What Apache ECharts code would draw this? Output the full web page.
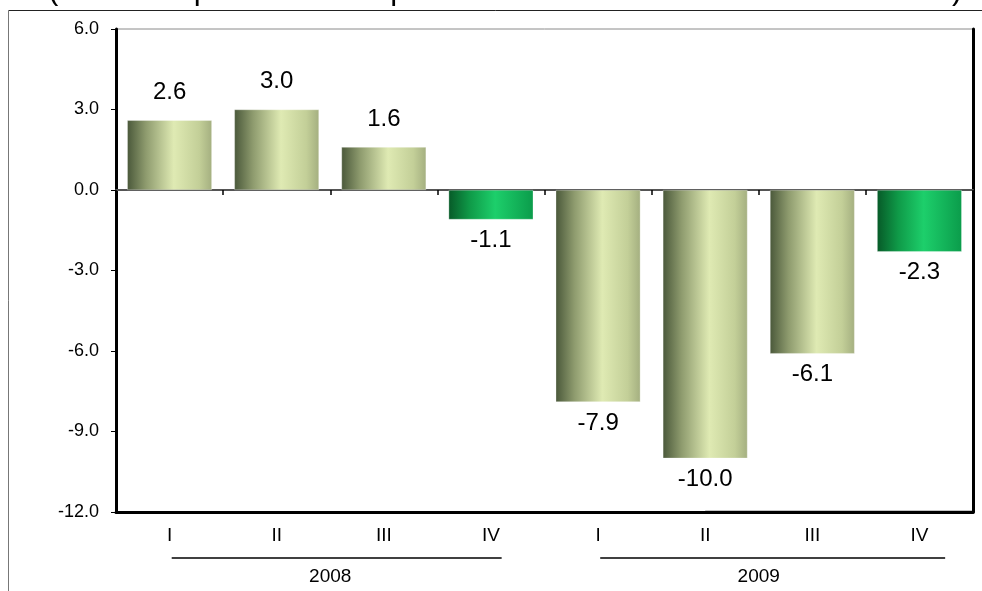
<!DOCTYPE html>
<html>
<head>
<meta charset="utf-8">
<script src="https://cdn.jsdelivr.net/npm/echarts@6/dist/echarts.min.js"></script>
<style>
  html, body { margin: 0; padding: 0; background: #fff; }
  #chart { width: 982px; height: 591px; }
</style>
</head>
<body>
<div id="chart"></div>
<script>
// Quarterly values, grouped by year
const quarters = ['I', 'II', 'III', 'IV', 'I', 'II', 'III', 'IV'];
const values = [2.6, 3.0, 1.6, -1.1, -7.9, -10.0, -6.1, -2.3];
const years = ['2008', '2009'];
const yTicks = { min: -12, max: 6, interval: 3 };
const heading = '(Variación porcentual respecto al mismo trimestre del año anterior)';

const FONT = 'Arial, "Liberation Sans", sans-serif';

const oliveFill = new echarts.graphic.LinearGradient(0, 0, 1, 0, [
  { offset: 0, color: '#4a583a' },
  { offset: 0.22, color: '#8e9b6e' },
  { offset: 0.55, color: '#dfeab3' },
  { offset: 0.85, color: '#c3cf98' },
  { offset: 1, color: '#a4af80' }
]);
const greenFill = new echarts.graphic.LinearGradient(0, 0, 1, 0, [
  { offset: 0, color: '#075a28' },
  { offset: 0.25, color: '#0f9a48' },
  { offset: 0.55, color: '#1dcf6b' },
  { offset: 1, color: '#0b9c4b' }
]);

const barData = values.map((v, i) => ({
  value: v,
  itemStyle: { color: quarters[i] === 'IV' ? greenFill : oliveFill },
  label: { position: v >= 0 ? 'top' : 'bottom', distance: v >= 0 ? 16 : 9 }
}));

const chart = echarts.init(document.getElementById('chart'), null, { renderer: 'canvas' });

chart.setOption({
  animation: false,
  backgroundColor: '#fff',
  grid: {
    left: 116, right: 9, top: 29, bottom: 79,
    show: true, borderColor: '#8a8a8a', borderWidth: 1
  },
  xAxis: [
    {
      type: 'category', data: quarters, position: 'bottom',
      axisLine: { onZero: true, lineStyle: { color: '#555', width: 2 } },
      axisTick: { show: true, alignWithLabel: false, length: 5, lineStyle: { color: '#000', width: 1.5 } },
      axisLabel: { show: false }
    },
    {
      type: 'category', data: quarters, position: 'bottom',
      axisLine: { onZero: false, lineStyle: { color: '#000', width: 3 } },
      axisTick: { show: false },
      axisLabel: { margin: 14, color: '#000', fontSize: 19, fontFamily: FONT }
    },
    {
      type: 'category', data: years, position: 'bottom', offset: 43,
      axisLine: { show: false }, axisTick: { show: false },
      axisLabel: { margin: 12, color: '#000', fontSize: 19, fontFamily: FONT }
    }
  ],
  yAxis: [
    {
      type: 'value', min: yTicks.min, max: yTicks.max, interval: yTicks.interval,
      axisLine: { show: true, lineStyle: { color: '#000', width: 3 } },
      axisTick: { show: true, length: 5, lineStyle: { color: '#000', width: 1 } },
      splitLine: { show: false },
      axisLabel: { margin: 17, color: '#000', fontSize: 18, fontFamily: FONT,
        formatter: v => v.toFixed(1) }
    },
    {
      type: 'value', position: 'right', min: yTicks.min, max: yTicks.max, interval: yTicks.interval,
      axisLine: { show: true, lineStyle: { color: '#000', width: 3 } },
      axisTick: { show: false }, axisLabel: { show: false }, splitLine: { show: false }
    }
  ],
  series: [{
    type: 'bar',
    xAxisIndex: 0, yAxisIndex: 0,
    data: barData,
    barWidth: '79%',
    itemStyle: { borderColor: 'rgba(255,255,255,0.6)', borderWidth: 0.5 },
    label: {
      show: true, color: '#000', fontSize: 24, fontFamily: FONT,
      formatter: p => p.value.toFixed(1)
    }
  }]
});

// Frame lines, heading and year underlines placed from the axis scales
function px(idx, val) {
  return chart.convertToPixel({ xAxisIndex: 0, yAxisIndex: 0 }, [idx, val]);
}
const catW = px(1, 0)[0] - px(0, 0)[0];
const bottomY = px(0, yTicks.min)[1];
const rightEdge = 973;
const lineY = 558;

chart.setOption({
  graphic: [
    { type: 'line', shape: { x1: 8.5, y1: 10.5, x2: 982, y2: 10.5 }, style: { stroke: '#222', lineWidth: 1 } },
    { type: 'line', shape: { x1: 8.5, y1: 10.5, x2: 8.5, y2: 591 }, style: { stroke: '#777', lineWidth: 1 } },
    { type: 'text', left: 48, top: -25,
      style: { text: heading, font: '31px ' + FONT, fill: '#000' } },
    { type: 'line', shape: { x1: px(0, 0)[0] + 0.02 * catW, y1: lineY, x2: px(3, 0)[0] + 0.1 * catW, y2: lineY },
      style: { stroke: '#000', lineWidth: 1.5 } },
    { type: 'line', shape: { x1: px(4, 0)[0] + 0.02 * catW, y1: lineY, x2: px(7, 0)[0] + 0.24 * catW, y2: lineY },
      style: { stroke: '#000', lineWidth: 1.5 } },
    { type: 'line', shape: { x1: px(5, 0)[0], y1: bottomY - 0.5, x2: rightEdge, y2: bottomY - 0.5 },
      style: { stroke: '#8c8c8c', lineWidth: 2 } }
  ]
});
</script>
</body>
</html>
